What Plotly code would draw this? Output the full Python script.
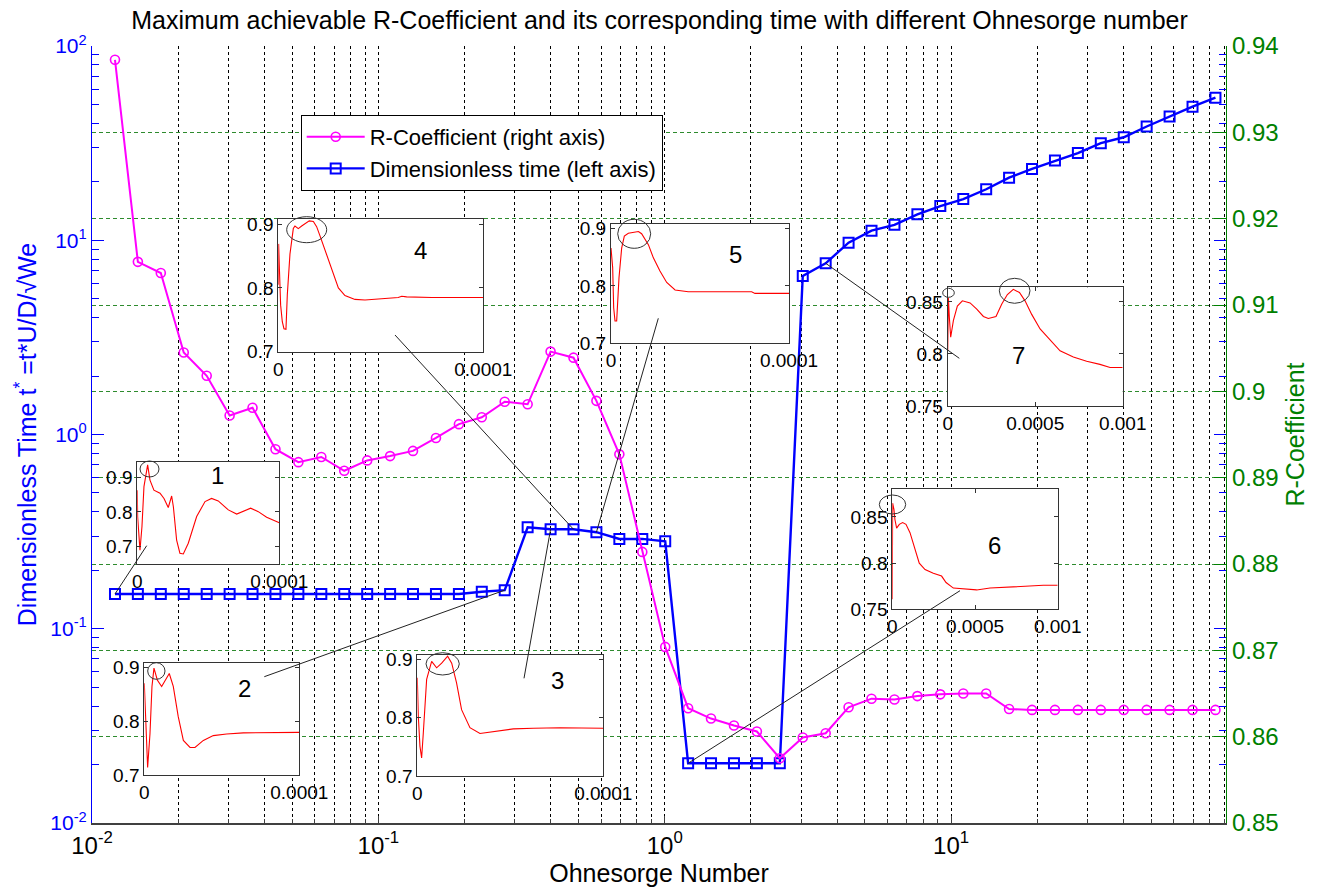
import math
import plotly.graph_objects as go

# ---------------------------------------------------------------- data
# Ohnesorge numbers of the simulated cases
ohnesorge = [0.01203, 0.01446, 0.01739, 0.02091, 0.02515, 0.03024, 0.03636, 0.04372,
             0.05257, 0.06321, 0.07601, 0.09140, 0.1099, 0.1321, 0.1589, 0.1911,
             0.2297, 0.2762, 0.3321, 0.3994, 0.4802, 0.5774, 0.6943, 0.8349,
             1.004, 1.207, 1.451, 1.745, 2.098, 2.523, 3.034, 3.648,
             4.386, 5.274, 6.342, 7.626, 9.170, 11.03, 13.26, 15.94,
             19.17, 23.05, 27.72, 33.33, 40.08, 48.19, 57.95, 69.68, 83.79]

# maximum achievable R-coefficient (right axis)
r_coefficient = [0.9384, 0.9150, 0.9137, 0.9045, 0.9018, 0.8972, 0.8981, 0.8933,
                 0.8918, 0.8924, 0.8908, 0.8920, 0.8925, 0.8931, 0.8946, 0.8962,
                 0.8970, 0.8988, 0.8985, 0.9046, 0.9039, 0.8989, 0.8927, 0.8814,
                 0.8704, 0.8633, 0.8621, 0.8613, 0.8606, 0.8575, 0.8599, 0.8604,
                 0.8634, 0.8644, 0.8643, 0.8647, 0.8649, 0.8650, 0.8650, 0.8632,
                 0.8631, 0.8631, 0.8631, 0.8631, 0.8631, 0.8631, 0.8631, 0.8631, 0.8631]

# dimensionless time of the maximum (left axis)
dimensionless_time = [0.151, 0.151, 0.151, 0.151, 0.151, 0.151, 0.151, 0.151,
                      0.151, 0.151, 0.151, 0.151, 0.151, 0.151, 0.151, 0.151,
                      0.155, 0.158, 0.333, 0.325, 0.325, 0.314, 0.290, 0.290,
                      0.282, 0.0203, 0.0203, 0.0203, 0.0203, 0.0203, 6.55, 7.61,
                      9.72, 11.2, 12.0, 13.6, 15.0, 16.3, 18.3, 21.0,
                      23.3, 25.7, 28.1, 31.6, 33.9, 38.5, 43.3, 48.7, 54.2]

x_tick_vals = [0.01, 0.1, 1, 10]
x_tick_text = ["10<sup>-2</sup>", "10<sup>-1</sup>", "10<sup>0</sup>", "10<sup>1</sup>"]
y_tick_vals = [0.01, 0.1, 1, 10, 100]
y_tick_text = ["10<sup>-2</sup>", "10<sup>-1</sup>", "10<sup>0</sup>", "10<sup>1</sup>", "10<sup>2</sup>"]

# R-coefficient histories (time in microseconds) of the seven highlighted cases
inset1_t_us = [0, 0.23, 1.88, 3.29, 4.69, 7.28, 8.92, 11.7, 16.0, 18.8, 21.8, 24.2, 25.4, 27.7,
               30.0, 32.4, 35.9, 41.8, 47.7, 52.3, 57.0, 64.1, 70.0, 74.6, 79.8, 85.2, 91.1, 100]
inset1_r = [0.863, 0.787, 0.690, 0.758, 0.873, 0.936, 0.892, 0.863, 0.854, 0.839, 0.813, 0.846,
            0.815, 0.719, 0.681, 0.679, 0.710, 0.787, 0.830, 0.839, 0.832, 0.806, 0.794, 0.801,
            0.811, 0.801, 0.785, 0.769]

inset2_t_us = [0, 0.43, 2.15, 3.66, 4.95, 6.24, 8.39, 11.2, 13.8, 16.1, 18.7, 21.9, 25.2, 29.5,
               32.7, 38.1, 44.5, 53.1, 63.9, 78.9, 89.7, 100]
inset2_r = [0.870, 0.836, 0.714, 0.776, 0.864, 0.898, 0.876, 0.864, 0.876, 0.888, 0.864, 0.808,
            0.764, 0.751, 0.751, 0.764, 0.773, 0.776, 0.778, 0.778, 0.779, 0.779]

inset3_t_us = [0, 0.54, 1.43, 2.33, 3.23, 4.12, 5.02, 7.71, 10.4, 13.1, 16.3, 18.5, 21.1, 23.8,
               28.3, 33.7, 40.9, 51.6, 62.4, 76.7, 100]
inset3_r = [0.869, 0.803, 0.751, 0.731, 0.774, 0.831, 0.866, 0.897, 0.886, 0.894, 0.906, 0.894,
            0.860, 0.814, 0.783, 0.773, 0.776, 0.781, 0.782, 0.783, 0.782]

inset4_t_us = [0, 0.16, 0.49, 1.14, 1.95, 2.76, 3.74, 4.39, 5.69, 7.32, 8.13, 9.76, 11.4, 13.0,
               15.1, 17.1, 18.7, 20.3, 22.8, 26.0, 29.3, 32.5, 37.4, 42.3, 47.2, 52.0, 58.5, 60.2,
               62.6, 74.8, 100]
inset4_r = [0.805, 0.869, 0.835, 0.773, 0.747, 0.736, 0.735, 0.789, 0.853, 0.893, 0.897, 0.893,
            0.897, 0.900, 0.905, 0.904, 0.896, 0.882, 0.859, 0.827, 0.800, 0.788, 0.782, 0.781,
            0.782, 0.784, 0.785, 0.787, 0.786, 0.785, 0.785]

inset5_t_us = [0, 0.37, 0.94, 1.50, 2.25, 3.18, 3.75, 4.49, 5.99, 7.49, 9.74, 12.5, 15.4, 17.2,
               19.1, 21.0, 23.8, 27.5, 31.3, 36.0, 43.4, 56.6, 79.0, 80.9, 100]
inset5_r = [0.866, 0.849, 0.832, 0.762, 0.739, 0.739, 0.768, 0.814, 0.866, 0.887, 0.892, 0.894,
            0.895, 0.891, 0.881, 0.872, 0.849, 0.826, 0.806, 0.793, 0.790, 0.790, 0.790, 0.787,
            0.787]

inset6_t_us = [0, 1, 2, 10.1, 16.1, 26.2, 42.3, 62.5, 82.7, 107, 137, 163, 198, 248, 298, 325,
               369, 429, 510, 591, 692, 813, 913, 1000]
inset6_r = [0.761, 0.862, 0.865, 0.858, 0.847, 0.838, 0.842, 0.844, 0.842, 0.833, 0.815, 0.800,
            0.793, 0.789, 0.786, 0.779, 0.773, 0.772, 0.771, 0.773, 0.774, 0.775, 0.776, 0.776]

inset7_t_us = [0, 3.8, 9.5, 17.1, 32.4, 55.2, 83.8, 128, 166, 204, 232, 276, 309, 341, 375, 410,
               442, 480, 528, 585, 642, 718, 794, 870, 928, 1000]
inset7_r = [0.803, 0.854, 0.835, 0.816, 0.832, 0.846, 0.851, 0.849, 0.843, 0.836, 0.834, 0.836,
            0.848, 0.857, 0.862, 0.859, 0.851, 0.838, 0.824, 0.813, 0.803, 0.797, 0.793, 0.790,
            0.787, 0.787]

# case (index into ohnesorge) that each history belongs to
inset_case = [0, 17, 19, 20, 21, 25, 31]

# ---------------------------------------------------------------- layout
W, H = 1319, 890
ML, MR, MT, MB = 92, 93, 46, 67
PW, PH = W - ML - MR, H - MT - MB
X_RANGE = [-2, 1.96]
Y_RANGE = [-2, 2]

FONT = "Liberation Sans, Arial, Helvetica, sans-serif"
BLUE = "#0000ff"
GREEN = "#008000"
MAGENTA = "#ff00ff"


def px_to_paper(px, py):
    return (px - ML) / PW, (H - MB - py) / PH


def px_to_data(px, py):
    fx, fy = px_to_paper(px, py)
    return (10 ** (X_RANGE[0] + fx * (X_RANGE[1] - X_RANGE[0])),
            10 ** (Y_RANGE[0] + fy * (Y_RANGE[1] - Y_RANGE[0])))


# inset frames in pixels: left, top, right, bottom
inset_boxes = [(137.3, 461.7, 279.3, 564), (144.3, 662.7, 299.3, 775), (417.3, 655, 603.3, 776),
               (278.3, 219, 483.3, 351.7), (611, 224, 789, 343.3), (892.3, 489.3, 1057.7, 609.3),
               (947.7, 287.3, 1122.7, 406)]
inset_yrange = [[0.65, 0.945], [0.70, 0.908], [0.70, 0.908], [0.70, 0.908], [0.70, 0.908],
                [0.75, 0.88], [0.75, 0.864]]
inset_label_pos = [(217, 475), (244, 688), (557, 680), (420, 250), (735, 255), (994, 545), (1018, 355)]
inset_leader_from = [(146.7, 545.7), (264.3, 676.7), (524, 678.3), (395, 335), (658.3, 318.3),
                     (960, 590.7), (959.3, 358.3)]
peak_rings = [(140, 461, 159, 477), (147.7, 662.7, 165, 679.3), (426, 652.7, 459.3, 675),
              (286.7, 216.7, 326.7, 242.7), (617.7, 219.3, 650.7, 248.3), (879.3, 495, 905.7, 514),
              (999.3, 278.3, 1030, 303.3), (942.7, 288.3, 954.3, 297.3)]

histories = [(inset1_t_us, inset1_r), (inset2_t_us, inset2_r), (inset3_t_us, inset3_r),
             (inset4_t_us, inset4_r), (inset5_t_us, inset5_r), (inset6_t_us, inset6_r),
             (inset7_t_us, inset7_r)]

fig = go.Figure()

fig.add_trace(go.Scatter(
    x=ohnesorge, y=r_coefficient, yaxis="y2", mode="lines+markers",
    name="R-Coefficient (right axis)",
    line=dict(color=MAGENTA, width=2),
    marker=dict(symbol="circle-open", size=9, color=MAGENTA, line=dict(width=1.6, color=MAGENTA)),
))
fig.add_trace(go.Scatter(
    x=ohnesorge, y=dimensionless_time, yaxis="y", mode="lines+markers",
    name="Dimensionless time (left axis)",
    line=dict(color=BLUE, width=2.4),
    marker=dict(symbol="square-open", size=10, color=BLUE, line=dict(width=2, color=BLUE)),
))

minor_x = [m * 10 ** e for e in range(-2, 2) for m in range(2, 10)]
minor_y = [m * 10 ** e for e in range(-2, 2) for m in range(2, 10)]

layout = dict(
    width=W, height=H, autosize=False,
    margin=dict(l=ML, r=MR, t=MT, b=MB, autoexpand=False),
    paper_bgcolor="white", plot_bgcolor="white",
    font=dict(family=FONT, size=20, color="black"),
    showlegend=True,
    title=dict(text="Maximum achievable R-Coefficient and its corresponding time with different Ohnesorge number",
               x=0.5, xanchor="center", y=1 - 20 / H, yanchor="middle",
               font=dict(size=25, color="black")),
    legend=dict(x=(300.7 - ML) / PW, y=(H - MB - 115) / PH, xanchor="left", yanchor="top",
                bgcolor="white", bordercolor="black", borderwidth=1, itemwidth=58,
                font=dict(size=22, color="black"), tracegroupgap=0),
    xaxis=dict(type="log", range=X_RANGE, tickmode="array", tickvals=x_tick_vals, ticktext=x_tick_text,
               tickfont=dict(size=24, color="black"), automargin=False,
               showline=True, linecolor="#404040", linewidth=1.5,
               ticks="inside", ticklen=7, tickcolor="#404040",
               showgrid=True, gridcolor="black", gridwidth=1, griddash="3px,3px",
               minor=dict(tickmode="array", tickvals=minor_x, ticks="inside", ticklen=4,
                          tickcolor="#404040", showgrid=True, gridcolor="black", gridwidth=1,
                          griddash="3px,3px"),
               zeroline=False,
               title=dict(text="Ohnesorge Number", font=dict(size=25, color="black"), standoff=6)),
    yaxis=dict(type="log", range=Y_RANGE, tickmode="array", tickvals=y_tick_vals, ticktext=y_tick_text,
               tickfont=dict(size=21, color=BLUE), automargin=False,
               showline=True, linecolor=BLUE, linewidth=1.2, mirror="ticks",
               ticks="inside", ticklen=12, tickcolor=BLUE,
               minor=dict(tickmode="array", tickvals=minor_y, ticks="inside", ticklen=7,
                          tickcolor=BLUE, showgrid=False),
               showgrid=False, zeroline=False,
               title=dict(text="Dimensionless Time t<sup>*</sup> =t*U/D/\u221aWe",
                          font=dict(size=25, color=BLUE), standoff=6)),
    yaxis2=dict(overlaying="y", side="right", anchor="x", range=[0.85, 0.94], dtick=0.01,
                tick0=0.85, tickfont=dict(size=24, color=GREEN), automargin=False,
                showline=True, linecolor=GREEN, linewidth=1.2,
                ticks="inside", ticklen=12, tickcolor=GREEN,
                showgrid=True, gridcolor="#2e8b2e", gridwidth=1, griddash="4px,3px",
                zeroline=False,
                title=dict(text="R-Coefficient", font=dict(size=25, color=GREEN), standoff=8)),
)

shapes = []
annotations = []

for i, (box, yr, (t_us, r)) in enumerate(zip(inset_boxes, inset_yrange, histories)):
    n = i + 3
    xa, ya = f"xaxis{n}", f"yaxis{n}"
    L, T, R, B = box
    x0, y0 = px_to_paper(L, B)
    x1, y1 = px_to_paper(R, T)
    long_run = i >= 5
    t_s = [v * 1e-6 for v in t_us]
    fig.add_trace(go.Scatter(x=t_s, y=r, xaxis=f"x{n}", yaxis=f"y{n}", mode="lines",
                             line=dict(color="#ff0000", width=1.1), showlegend=False,
                             hoverinfo="skip"))
    if long_run:
        xt, xl, xr = [0, 5e-4, 1e-3], ["0", "0.0005", "0.001"], [0, 1e-3]
        yt, yl = [0.75, 0.8, 0.85], ["0.75", "0.8", "0.85"]
    else:
        xt, xl, xr = [0, 1e-4], ["0", "0.0001"], [0, 1e-4]
        yt, yl = [0.7, 0.8, 0.9], ["0.7", "0.8", "0.9"]
    layout[xa] = dict(domain=[x0, x1], anchor=f"y{n}", range=xr, tickmode="array", tickvals=xt,
                      ticktext=xl, showline=True, linecolor="#333333", linewidth=1, mirror="ticks",
                      ticks="inside", ticklen=4, tickcolor="#333333", showgrid=False, zeroline=False,
                      automargin=False, tickfont=dict(size=19, color="black"))
    layout[ya] = dict(domain=[y0, y1], anchor=f"x{n}", range=yr, tickmode="array", tickvals=yt,
                      ticktext=yl, showline=True, linecolor="#333333", linewidth=1, mirror="ticks",
                      ticks="inside", ticklen=4, tickcolor="#333333", showgrid=False, zeroline=False,
                      automargin=False, tickfont=dict(size=19, color="black"))

    lx, ly = px_to_paper(*inset_label_pos[i])
    annotations.append(dict(text=str(i + 1), x=lx, y=ly, xref="paper", yref="paper",
                            showarrow=False, xanchor="center", yanchor="middle",
                            font=dict(size=24, color="black")))

    # leader line from the history frame to the case it belongs to
    ax_, ay_ = px_to_data(*inset_leader_from[i])
    k = inset_case[i]
    shapes.append(dict(type="line", xref="x", yref="y", x0=ax_, y0=ay_,
                       x1=ohnesorge[k], y1=dimensionless_time[k],
                       line=dict(color="#222222", width=1), layer="above"))

for (ex0, ey0, ex1, ey1) in peak_rings:
    px0, py0 = px_to_paper(ex0, ey1)
    px1, py1 = px_to_paper(ex1, ey0)
    shapes.append(dict(type="circle", xref="paper", yref="paper", x0=px0, y0=py0, x1=px1, y1=py1,
                       line=dict(color="#333333", width=1), layer="above"))

layout["shapes"] = shapes
layout["annotations"] = annotations
fig.update_layout(**layout)

fig.write_html("out.html")
